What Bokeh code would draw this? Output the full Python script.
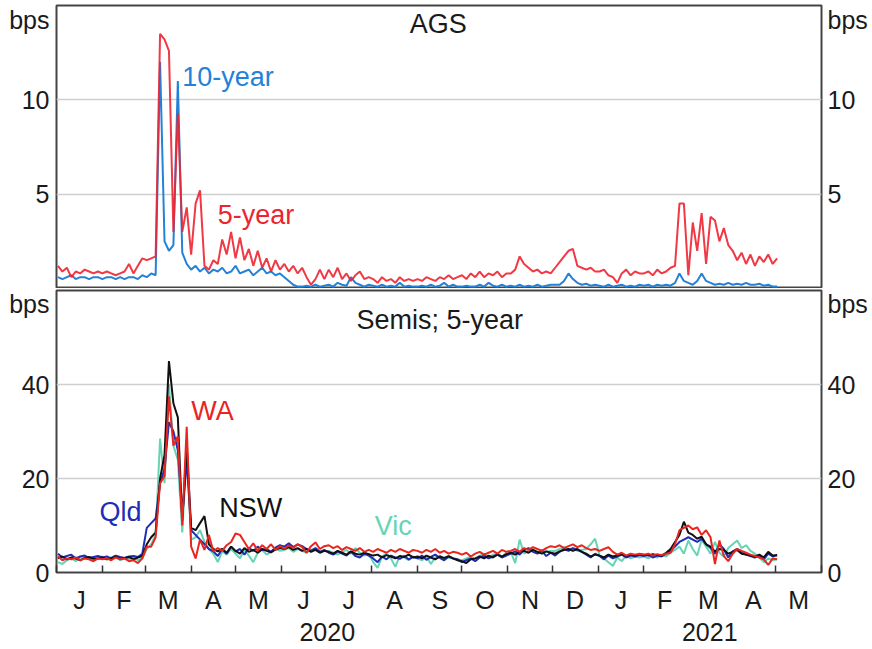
import pandas as pd
from bokeh.plotting import figure
from bokeh.layouts import column
from bokeh.models import (FixedTicker, LinearAxis, DatetimeAxis, Label, Range1d,
                          NumeralTickFormatter, ColumnDataSource)
from bokeh.embed import file_html
from bokeh.resources import INLINE

# ---------------- data (3-day sampling) ----------------
first_date = "2020-01-02"
step = "3D"
n_obs = 163

# AGS bid-ask spreads, bps (one line per month: Jan-20 ... May-21)
ags_10y = (
    [0.6, 0.5, 0.6, 0.7, 0.5, 0.6, 0.6, 0.5, 0.6, 0.6] +
    [0.5, 0.6, 0.6, 0.5, 0.6, 0.5, 0.6, 0.6, 0.5, 0.7] +
    [0.6, 0.8, 0.7, 12.0, 2.5, 2.0, 2.3, 11.0, 1.9, 1.3] +
    [1.0, 1.2, 0.9, 1.1, 0.8, 1.0, 0.9, 1.1, 0.8, 0.9] +
    [1.2, 0.8, 0.9, 1.0, 0.7, 0.9, 1.1, 0.8, 0.9, 0.7, 0.8] +
    [0.6, 0.4, 0.2, 0.1, 0.1, 0.15, 0.1, 0.2, 0.1, 0.15] +
    [0.2, 0.1, 0.3, 0.2, 0.15, 0.6, 0.3, 0.2, 0.1, 0.2] +
    [0.15, 0.1, 0.2, 0.1, 0.15, 0.1, 0.3, 0.1, 0.15, 0.1] +
    [0.1, 0.15, 0.1, 0.2, 0.1, 0.15, 0.3, 0.1, 0.2, 0.1] +
    [0.1, 0.15, 0.1, 0.1, 0.2, 0.1, 0.3, 0.15, 0.1, 0.2, 0.1] +
    [0.15, 0.1, 0.2, 0.1, 0.15, 0.1, 0.2, 0.1, 0.15, 0.2] +
    [0.2, 0.2, 0.4, 0.8, 0.5, 0.3, 0.2, 0.25, 0.15, 0.2] +
    [0.15, 0.1, 0.2, 0.1, 0.15, 0.2, 0.1, 0.15, 0.1, 0.2] +
    [0.15, 0.2, 0.1, 0.2, 0.15, 0.2, 0.15, 0.3, 0.8, 0.4] +
    [0.3, 0.2, 0.4, 0.8, 0.4, 0.3, 0.2, 0.25, 0.2, 0.3] +
    [0.2, 0.25, 0.2, 0.3, 0.2, 0.2, 0.25, 0.15, 0.2, 0.1] +
    [0.1]
)
ags_5y = (
    [1.2, 0.9, 1.1, 0.6, 0.9, 0.8, 1.0, 0.9, 0.8, 0.9] +
    [0.8, 0.9, 0.8, 0.7, 0.8, 0.9, 1.3, 0.8, 1.2, 1.6] +
    [1.5, 1.6, 1.7, 13.5, 13.2, 12.6, 3.0, 9.3, 3.0, 4.3] +
    [1.8, 4.5, 5.2, 1.2, 1.0, 1.5, 1.3, 2.6, 1.8, 3.0] +
    [1.6, 2.7, 1.5, 2.1, 1.2, 2.0, 1.1, 1.6, 0.9, 1.5, 1.0] +
    [1.3, 0.9, 1.2, 0.8, 1.1, 0.6, 0.2, 0.5, 1.0, 0.5] +
    [1.0, 0.6, 1.1, 0.5, 0.8, 0.4, 0.7, 0.9, 0.5, 0.6] +
    [0.5, 0.3, 0.6, 0.4, 0.5, 0.3, 0.6, 0.4, 0.5, 0.4] +
    [0.5, 0.4, 0.6, 0.5, 0.4, 0.6, 0.5, 0.7, 0.5, 0.6] +
    [0.7, 0.5, 0.8, 0.6, 0.9, 0.6, 0.8, 0.7, 0.9, 0.6, 0.8] +
    [0.8, 1.0, 1.7, 1.3, 1.1, 0.9, 1.0, 0.8, 0.9, 0.8] +
    [1.1, 1.4, 1.7, 2.0, 2.1, 1.2, 1.1, 1.0, 1.1, 0.9] +
    [0.9, 1.0, 0.7, 0.6, 0.3, 0.8, 1.0, 0.7, 0.9, 0.8] +
    [0.8, 0.9, 0.7, 1.0, 0.8, 0.9, 1.1, 1.2, 4.5, 4.5] +
    [0.7, 3.5, 2.0, 4.0, 1.3, 3.8, 3.6, 2.5, 3.2, 2.3] +
    [2.0, 1.5, 1.9, 1.3, 1.8, 1.2, 1.7, 1.4, 1.8, 1.3] +
    [1.6]
)

# Semi-government 5-year bid-ask spreads, bps
semi_qld = (
    [4.0, 3.2, 3.5, 3.8, 3.0, 3.4, 3.6, 3.1, 3.3, 3.5] +
    [3.2, 3.4, 3.0, 3.6, 3.3, 3.1, 3.4, 3.5, 3.3, 4.0] +
    [9.5, 10.5, 11.5, 19.0, 22.0, 32.0, 30.0, 26.0, 12.0, 24.0] +
    [9.0, 8.0, 7.0, 6.0, 5.0, 4.5, 3.5, 5.0, 4.0, 5.5] +
    [4.5, 5.0, 3.8, 5.2, 4.6, 5.5, 4.8, 5.0, 4.4, 5.3, 5.8] +
    [5.5, 6.2, 5.4, 6.0, 5.6, 5.0, 4.6, 5.2, 4.4, 4.8] +
    [4.2, 3.8, 4.5, 4.0, 3.6, 4.4, 3.5, 3.2, 4.0, 3.6] +
    [3.0, 2.2, 3.4, 2.8, 3.6, 3.2, 2.9, 3.5, 2.8, 3.3] +
    [3.0, 3.6, 2.7, 3.3, 3.8, 3.1, 2.6, 3.4, 3.0, 2.8] +
    [2.2, 2.6, 3.0, 2.4, 3.2, 3.6, 3.0, 3.4, 3.8, 3.2, 3.6] +
    [4.0, 4.5, 3.8, 4.8, 5.2, 4.4, 4.0, 4.6, 3.5, 4.2] +
    [3.6, 4.4, 5.0, 4.6, 5.2, 4.8, 4.4, 3.8, 3.2, 4.0] +
    [3.5, 2.8, 3.6, 3.0, 3.4, 3.8, 3.2, 3.6, 3.4, 3.7] +
    [3.5, 3.8, 3.2, 3.6, 3.4, 4.0, 4.6, 5.5, 6.5, 7.0] +
    [7.5, 7.0, 6.5, 7.2, 6.0, 5.2, 4.0, 6.0, 5.0, 3.2] +
    [4.5, 5.0, 4.2, 3.8, 3.5, 3.2, 3.6, 2.8, 4.0, 3.4] +
    [3.8]
)
semi_nsw = (
    [3.0, 3.4, 2.8, 3.2, 3.0, 2.6, 3.1, 3.3, 2.9, 3.0] +
    [3.2, 2.8, 3.0, 3.4, 2.9, 3.1, 3.3, 2.8, 3.2, 3.5] +
    [6.0, 7.5, 8.5, 20.0, 25.0, 45.0, 36.0, 33.0, 11.0, 27.0] +
    [9.5, 9.0, 10.5, 12.0, 6.0, 5.0, 4.5, 5.0, 4.2, 5.5] +
    [4.6, 4.0, 5.2, 4.4, 4.8, 4.2, 5.0, 4.6, 4.3, 4.9, 5.2] +
    [5.0, 5.4, 4.8, 5.2, 4.6, 5.0, 4.4, 4.8, 4.2, 4.6] +
    [4.4, 4.0, 4.6, 4.2, 3.8, 4.5, 4.0, 3.8, 4.2, 3.9] +
    [3.6, 3.8, 3.2, 3.7, 3.4, 3.0, 3.5, 3.3, 3.8, 3.2] +
    [3.4, 3.0, 3.6, 3.2, 2.8, 3.4, 3.1, 3.5, 3.0, 2.6] +
    [2.4, 2.0, 2.8, 3.0, 3.4, 3.0, 3.6, 3.2, 3.8, 3.4, 3.9] +
    [4.2, 3.8, 4.4, 4.6, 4.2, 4.8, 4.4, 4.0, 4.5, 4.2] +
    [4.0, 4.5, 4.8, 5.0, 4.6, 5.0, 4.4, 4.0, 3.4, 3.8] +
    [3.6, 3.2, 3.8, 3.4, 3.6, 3.9, 3.5, 3.8, 3.6, 3.9] +
    [3.8, 3.6, 3.9, 3.7, 3.6, 4.2, 5.0, 6.5, 8.0, 10.8] +
    [8.5, 8.0, 7.2, 7.6, 6.0, 5.5, 4.5, 5.0, 4.8, 4.0] +
    [4.4, 4.8, 4.0, 3.8, 3.6, 3.4, 3.8, 3.2, 4.4, 3.6] +
    [3.6]
)
semi_vic = (
    [2.2, 1.8, 2.6, 3.0, 2.4, 3.2, 3.6, 2.8, 3.0, 3.2] +
    [3.4, 2.8, 3.2, 3.6, 2.6, 3.0, 2.8, 3.3, 2.6, 3.0] +
    [5.0, 6.0, 8.0, 28.5, 19.0, 40.0, 27.0, 24.0, 8.5, 26.0] +
    [7.0, 7.5, 9.0, 6.5, 5.0, 4.0, 2.2, 4.5, 3.8, 5.0] +
    [4.0, 3.0, 4.8, 3.6, 2.2, 4.2, 4.8, 3.8, 4.4, 5.0, 4.6] +
    [4.8, 5.2, 4.4, 5.0, 4.6, 4.2, 4.8, 5.0, 4.4, 4.6] +
    [4.6, 4.2, 3.8, 4.4, 4.8, 4.0, 5.2, 4.2, 3.6, 4.0] +
    [2.2, 1.0, 3.4, 4.0, 3.0, 1.2, 3.6, 3.2, 2.6, 3.4] +
    [3.0, 2.6, 3.4, 1.8, 3.2, 3.6, 2.8, 3.2, 3.0, 2.8] +
    [2.6, 3.0, 3.4, 2.8, 3.6, 4.0, 3.2, 3.8, 4.0, 3.4, 4.2] +
    [4.4, 2.0, 7.0, 4.0, 4.6, 5.0, 4.2, 4.8, 4.4, 4.6] +
    [4.6, 5.0, 5.4, 4.8, 5.2, 4.6, 4.8, 5.0, 6.0, 7.2] +
    [3.6, 3.0, 2.2, 1.4, 3.2, 2.4, 3.6, 3.0, 3.4, 3.2] +
    [3.4, 3.0, 3.6, 3.2, 3.8, 3.4, 4.2, 4.8, 5.5, 4.0] +
    [6.8, 5.0, 3.6, 7.0, 5.5, 4.0, 6.5, 4.2, 3.4, 5.2] +
    [6.0, 6.8, 5.2, 5.8, 4.6, 4.0, 3.2, 2.2, 3.0, 2.6] +
    [2.8]
)
semi_wa = (
    [3.4, 2.6, 3.0, 2.8, 3.2, 2.6, 3.0, 2.8, 2.4, 3.0] +
    [2.8, 3.0, 2.6, 3.2, 2.8, 3.0, 2.4, 2.6, 2.0, 3.0] +
    [5.5, 5.5, 7.5, 19.0, 20.5, 37.5, 27.0, 29.0, 10.0, 31.0] +
    [5.5, 3.0, 7.0, 4.8, 8.0, 4.5, 5.2, 4.6, 5.8, 6.5] +
    [8.3, 8.0, 6.5, 5.0, 6.2, 4.6, 5.8, 5.0, 6.0, 4.8, 5.6] +
    [5.0, 5.8, 5.2, 6.0, 5.4, 4.2, 5.6, 6.4, 5.0, 5.6] +
    [5.8, 5.2, 5.6, 4.8, 5.4, 5.0, 4.6, 5.2, 4.4, 4.8] +
    [4.4, 5.0, 4.6, 4.2, 4.8, 4.4, 5.0, 4.6, 4.2, 4.8] +
    [4.6, 4.2, 4.8, 4.4, 5.0, 4.2, 4.6, 4.0, 4.4, 4.2] +
    [3.8, 4.2, 3.4, 4.0, 4.4, 3.8, 4.2, 4.6, 4.0, 4.8, 4.4] +
    [4.6, 5.0, 4.4, 5.2, 4.8, 5.4, 5.0, 4.6, 5.2, 5.6] +
    [5.4, 5.8, 5.2, 5.6, 6.0, 5.4, 5.8, 5.2, 4.8, 5.0] +
    [4.6, 5.0, 5.4, 4.4, 3.8, 4.2, 3.6, 4.0, 3.8, 4.0] +
    [3.8, 4.0, 3.6, 3.9, 3.7, 4.0, 4.2, 6.0, 9.0, 9.5] +
    [10.0, 9.2, 9.6, 8.0, 9.0, 7.5, 1.8, 6.8, 3.5, 2.4] +
    [4.0, 5.0, 4.6, 4.2, 3.8, 3.5, 3.2, 2.8, 1.6, 3.0] +
    [2.8]
)

month_letters = ["J", "F", "M", "A", "M", "J", "J", "A", "S", "O", "N", "D",
                 "J", "F", "M", "A", "M"]
year_labels = ["2020", "2021"]
ags_ticks = [5, 10]
semi_ticks = [0, 20, 40]

for s in (ags_10y, ags_5y, semi_qld, semi_nsw, semi_vic, semi_wa):
    assert len(s) == n_obs, len(s)

dates = pd.date_range(first_date, periods=n_obs, freq=step)
src = ColumnDataSource(data=dict(date=dates, ags10=ags_10y, ags5=ags_5y,
                                 qld=semi_qld, nsw=semi_nsw, vic=semi_vic, wa=semi_wa))

# ---------------- helpers ----------------
def ms(t):
    return int(pd.Timestamp(t).value // 10**6)

x_start, x_end = pd.Timestamp("2020-01-01"), pd.Timestamp("2021-06-01")
month_starts = pd.date_range(x_start, x_end, freq="MS")
month_mids = [(ms(a) + ms(b)) // 2 for a, b in zip(month_starts[:-1], month_starts[1:])]
year_mids = [(ms("2020-01-01") + ms("2021-01-01")) // 2, (ms("2021-01-01") + ms("2021-06-01")) // 2]

FONT = "Liberation Sans"
TXT = "#1a1a1a"
AX_SIZE = "25px"
LAB_SIZE = "27px"
C_BLUE10 = "#2382d8"
C_RED5 = "#ee2330"
C_QLD = "#1f2db4"
C_NSW = "#111111"
C_VIC = "#66d4b4"
C_WA = "#e8261f"
LW = 2


def make_fig(ymax, frame_h, top_border, bottom_border, with_x):
    p = figure(x_axis_type="datetime", frame_width=765, frame_height=frame_h,
               x_range=Range1d(x_start, x_end), y_range=Range1d(0, ymax),
               output_backend="svg", toolbar_location=None,
               min_border_left=56, min_border_right=51,
               min_border_top=top_border, min_border_bottom=bottom_border,
               x_axis_location="below" if with_x else None)
    p.outline_line_color = "#444444"
    p.outline_line_width = 2
    p.xgrid.visible = False
    p.background_fill_color = "white"
    p.border_fill_color = "white"
    return p


def style_y(p, ticks, bps_at):
    right = LinearAxis()
    p.add_layout(right, "right")
    for ax, standoff in ((p.yaxis[0], 7), (right, 6)):
        ax.ticker = FixedTicker(ticks=ticks + [bps_at])
        ax.formatter = NumeralTickFormatter(format="0")
        ax.major_label_overrides = {bps_at: "bps"}
        ax.major_tick_line_color = None
        ax.major_tick_out = 0
        ax.major_tick_in = 0
        ax.minor_tick_line_color = None
        ax.minor_tick_out = 0
        ax.minor_tick_in = 0
        ax.axis_line_color = None
        ax.major_label_text_font = FONT
        ax.major_label_text_font_size = AX_SIZE
        ax.major_label_text_color = TXT
        ax.major_label_standoff = standoff
    p.ygrid.ticker = FixedTicker(ticks=[t for t in ticks if t > 0])
    p.ygrid.grid_line_color = "#cfcfcf"
    p.ygrid.grid_line_width = 1.5


def label(p, text, when, y, color, align="left", size=LAB_SIZE):
    p.add_layout(Label(x=ms(when), y=y, text=text, text_color=color, text_font=FONT,
                       text_font_size=size, text_align=align, text_baseline="middle"))


# ---------------- top panel: AGS ----------------
p1 = make_fig(15, 283, 5, 0, False)
style_y(p1, ags_ticks, 14.25)
p1.line("date", "ags10", source=src, color=C_BLUE10, line_width=LW)
p1.line("date", "ags5", source=src, color=C_RED5, line_width=LW, line_alpha=0.9)
label(p1, "AGS", "2020-09-15", 14.0, TXT, align="center")
label(p1, "10-year", "2020-03-26", 11.2, C_BLUE10)
label(p1, "5-year", "2020-04-19", 3.9, C_RED5)

# ---------------- bottom panel: Semis ----------------
p2 = make_fig(60, 282, 2, 77, True)
style_y(p2, semi_ticks, 57.2)
p2.line("date", "vic", source=src, color=C_VIC, line_width=LW)
p2.line("date", "qld", source=src, color=C_QLD, line_width=LW)
p2.line("date", "nsw", source=src, color=C_NSW, line_width=LW)
p2.line("date", "wa", source=src, color=C_WA, line_width=LW)
label(p2, "Semis; 5-year", "2020-09-16", 53.8, TXT, align="center")
label(p2, "Qld", "2020-01-30", 12.9, C_QLD)
label(p2, "WA", "2020-04-01", 34.3, C_WA)
label(p2, "NSW", "2020-04-20", 13.8, C_NSW)
label(p2, "Vic", "2020-08-03", 10.0, C_VIC)

xa = p2.xaxis[0]
xa.ticker = FixedTicker(ticks=month_mids, minor_ticks=[ms(t) for t in month_starts])
xa.major_label_overrides = {m: l for m, l in zip(month_mids, month_letters)}
xa.major_tick_line_color = None
xa.minor_tick_line_color = "#333333"
xa.minor_tick_line_width = 1.5
xa.minor_tick_in = 7
xa.minor_tick_out = 0
xa.axis_line_color = None
xa.major_label_text_font = FONT
xa.major_label_text_font_size = AX_SIZE
xa.major_label_text_color = TXT
xa.major_label_standoff = 7

ya = DatetimeAxis(ticker=FixedTicker(ticks=year_mids),
                  major_label_overrides={m: l for m, l in zip(year_mids, year_labels)})
ya.major_tick_line_color = None
ya.minor_tick_line_color = None
ya.axis_line_color = None
ya.major_label_text_font = FONT
ya.major_label_text_font_size = AX_SIZE
ya.major_label_text_color = TXT
ya.major_label_standoff = 0
p2.add_layout(ya, "below")

layout = column(p1, p2, spacing=0)
open("out.html", "w").write(file_html(layout, INLINE))
